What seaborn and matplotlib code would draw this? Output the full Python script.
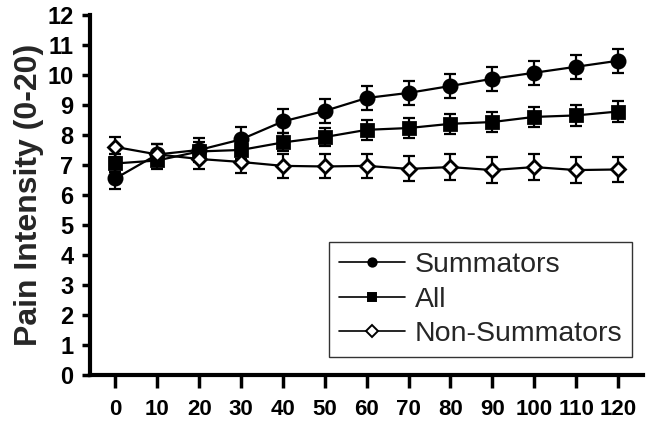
import numpy as np
import pandas as pd
import matplotlib
matplotlib.use("Agg")
import matplotlib.pyplot as plt
import seaborn as sns

# time points (minutes)
times = [0, 10, 20, 30, 40, 50, 60, 70, 80, 90, 100, 110, 120]

summators = [6.55, 7.35, 7.5, 7.85, 8.45, 8.8, 9.23, 9.4, 9.63, 9.87, 10.07, 10.27, 10.47]
summators_err = [0.35, 0.35, 0.4, 0.4, 0.4, 0.4, 0.4, 0.4, 0.4, 0.4, 0.4, 0.4, 0.4]

all_pts = [7.05, 7.15, 7.45, 7.5, 7.75, 7.93, 8.17, 8.23, 8.37, 8.43, 8.6, 8.65, 8.78]
all_err = [0.3, 0.3, 0.3, 0.3, 0.3, 0.3, 0.33, 0.33, 0.33, 0.33, 0.33, 0.35, 0.35]

non_summators = [7.6, 7.35, 7.2, 7.1, 6.97, 6.95, 6.97, 6.87, 6.93, 6.83, 6.93, 6.83, 6.85]
non_err = [0.33, 0.35, 0.35, 0.38, 0.4, 0.4, 0.4, 0.42, 0.42, 0.42, 0.42, 0.42, 0.42]

groups = ["Summators", "All", "Non-Summators"]

df = pd.concat([
    pd.DataFrame({"time": times, "pain": summators, "err": summators_err, "group": "Summators"}),
    pd.DataFrame({"time": times, "pain": all_pts, "err": all_err, "group": "All"}),
    pd.DataFrame({"time": times, "pain": non_summators, "err": non_err, "group": "Non-Summators"}),
], ignore_index=True)

sns.set_style("ticks")
plt.rcParams['font.family'] = ['Liberation Sans', 'DejaVu Sans']

fig = plt.figure(figsize=(6.49, 4.23), dpi=100)
ax = fig.add_axes([0.139, 0.113, 0.852, 0.852])

markers = {"Summators": "o", "All": "s", "Non-Summators": "D"}
sizes = {"Summators": 9.5, "All": 8.5, "Non-Summators": 7.5}
faces = {"Summators": "black", "All": "black", "Non-Summators": "white"}

for g in groups:
    sub = df[df["group"] == g]
    ax.errorbar(sub["time"], sub["pain"], yerr=sub["err"], fmt="none",
                ecolor="black", elinewidth=1.6, capsize=4.5, capthick=1.6, zorder=2)

sns.lineplot(data=df, x="time", y="pain", hue="group", hue_order=groups,
             palette=["black"] * 3, legend=False, linewidth=1.6, ax=ax, zorder=3)

for g in groups:
    sub = df[df["group"] == g]
    ax.plot(sub["time"], sub["pain"], linestyle="none", marker=markers[g],
            markersize=sizes[g], markerfacecolor=faces[g], markeredgecolor="black",
            markeredgewidth=2.0, zorder=4)

# legend handles
handles = []
for g in groups:
    h, = ax.plot([], [], color="black", linewidth=1.2, marker=markers[g],
                 markersize=6, markerfacecolor=faces[g], markeredgecolor="black",
                 markeredgewidth=1.4, label=g)
    handles.append(h)
leg = ax.legend(handles=handles, loc="lower right", bbox_to_anchor=(0.98, 0.05),
                fontsize=20.5, frameon=True, fancybox=False, handlelength=2.3,
                handletextpad=0.35, labelspacing=0.3, borderpad=0.35, borderaxespad=0)
leg.get_frame().set_edgecolor("black")
leg.get_frame().set_linewidth(1.0)

ax.set_xlim(-6, 126)
ax.set_ylim(0, 12)
ax.set_xticks(times)
ax.set_yticks(range(0, 13))
ax.set_xlabel("")
ax.set_ylabel("Pain Intensity (0-20)", fontsize=23, fontweight="bold", labelpad=2)

for s in ["top", "right"]:
    ax.spines[s].set_visible(False)
for s in ["left", "bottom"]:
    ax.spines[s].set_linewidth(3)
    ax.spines[s].set_color("black")

ax.tick_params(axis="y", direction="out", length=6, width=2.5, pad=6, labelsize=17, colors="black")
ax.tick_params(axis="x", direction="out", length=9, width=2.5, pad=8, labelsize=16, colors="black")
for lab in ax.get_xticklabels() + ax.get_yticklabels():
    lab.set_fontweight("bold")

fig.savefig("out.png", dpi=100)
